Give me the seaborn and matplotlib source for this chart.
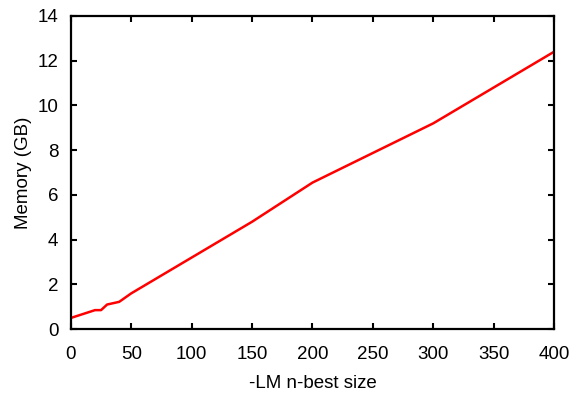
import matplotlib
matplotlib.use("Agg")
import matplotlib.pyplot as plt
import seaborn as sns
import pandas as pd

# n-best size vs memory usage
nbest_size = [0, 20, 25, 30, 40, 50, 150, 200, 300, 400]
memory_gb = [0.5, 0.85, 0.85, 1.1, 1.22, 1.6, 4.8, 6.55, 9.2, 12.4]

x_ticks = [0, 50, 100, 150, 200, 250, 300, 350, 400]
y_ticks = [0, 2, 4, 6, 8, 10, 12, 14]

sns.set_style("ticks")
plt.rcParams['font.family'] = ['Liberation Sans', 'DejaVu Sans']

fig, ax = plt.subplots(figsize=(5.76, 3.98), dpi=100)
fig.subplots_adjust(left=0.123, right=0.962, top=0.96, bottom=0.173)

df = pd.DataFrame({"size": nbest_size, "mem": memory_gb})
sns.lineplot(data=df, x="size", y="mem", ax=ax, color="#ff0000", linewidth=1.8)

ax.set_xlim(0, 400)
ax.set_ylim(0, 14)
ax.set_xticks(x_ticks)
ax.set_yticks(y_ticks)
ax.set_xlabel("-LM n-best size", fontsize=13.5, color="black", labelpad=9)
ax.set_ylabel("Memory (GB)", fontsize=13.5, color="black", labelpad=4)
ax.tick_params(direction="in", length=4.5, width=1.5, labelsize=13.5,
               top=True, right=True, colors="black")
ax.tick_params(axis="x", pad=12)
ax.tick_params(axis="y", pad=9)
for s in ax.spines.values():
    s.set_visible(True)
    s.set_linewidth(1.6)
    s.set_color("black")

plt.savefig("out.png", dpi=100)
